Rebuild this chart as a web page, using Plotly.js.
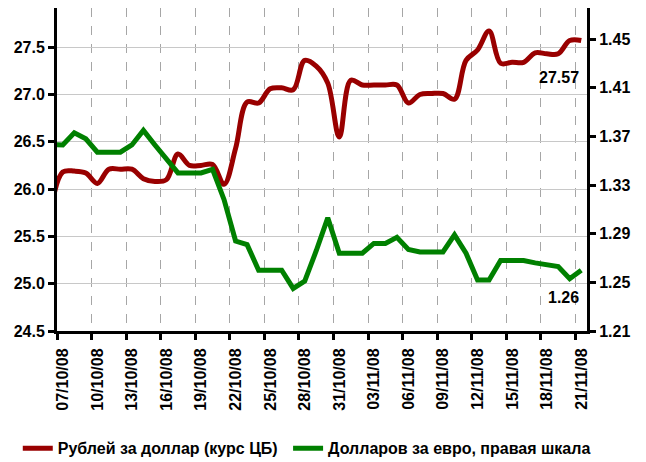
<!DOCTYPE html>
<html>
<head>
<meta charset="utf-8">
<script src="https://cdn.plot.ly/plotly-3.0.1.min.js"></script>
<style>
  html, body { margin: 0; padding: 0; background: #fff; }
  #chart { width: 646px; height: 462px; }
</style>
</head>
<body>
<div id="chart"></div>
<script>
// daily points (weekends included), plotted at midday like the original
var dates = [
  '2008-10-06 12:00', '2008-10-07 12:00', '2008-10-08 12:00', '2008-10-09 12:00', '2008-10-10 12:00',
  '2008-10-11 12:00', '2008-10-12 12:00', '2008-10-13 12:00', '2008-10-14 12:00', '2008-10-15 12:00',
  '2008-10-16 12:00', '2008-10-17 12:00', '2008-10-18 12:00', '2008-10-19 12:00', '2008-10-20 12:00',
  '2008-10-21 12:00', '2008-10-22 12:00', '2008-10-23 12:00', '2008-10-24 12:00', '2008-10-25 12:00',
  '2008-10-26 12:00', '2008-10-27 12:00', '2008-10-28 12:00', '2008-10-29 12:00', '2008-10-30 12:00',
  '2008-10-31 12:00', '2008-11-01 12:00', '2008-11-02 12:00', '2008-11-03 12:00', '2008-11-04 12:00',
  '2008-11-05 12:00', '2008-11-06 12:00', '2008-11-07 12:00', '2008-11-08 12:00', '2008-11-09 12:00',
  '2008-11-10 12:00', '2008-11-11 12:00', '2008-11-12 12:00', '2008-11-13 12:00', '2008-11-14 12:00',
  '2008-11-15 12:00', '2008-11-16 12:00', '2008-11-17 12:00', '2008-11-18 12:00', '2008-11-19 12:00',
  '2008-11-20 12:00', '2008-11-21 12:00'
];

// Рублей за доллар (курс ЦБ)
var rubUsd = [
  25.80, 26.18, 26.19, 26.17, 26.06, 26.21, 26.21, 26.21, 26.11, 26.08,
  26.10, 26.37, 26.25, 26.25, 26.26, 26.05, 26.43, 26.92, 26.91, 27.06,
  27.07, 27.05, 27.36, 27.30, 27.12, 26.55, 27.15, 27.10, 27.10, 27.10,
  27.10, 26.91, 27.00, 27.01, 27.01, 26.95, 27.36, 27.47, 27.67, 27.33,
  27.34, 27.34, 27.44, 27.43, 27.43, 27.57, 27.57
];

// Долларов за евро, правая шкала
var usdEur = [
  1.3635, 1.363, 1.373, 1.368, 1.357, 1.357, 1.357, 1.363, 1.375, 1.363,
  1.351, 1.340, 1.340, 1.340, 1.343, 1.318, 1.284, 1.281, 1.260, 1.260,
  1.260, 1.245, 1.251, 1.276, 1.303, 1.274, 1.274, 1.274, 1.282, 1.282,
  1.287, 1.277, 1.275, 1.275, 1.275, 1.289, 1.274, 1.252, 1.252, 1.268,
  1.268, 1.268, 1.266, 1.265, 1.263, 1.253, 1.260
];

var lastRub = '27.57';
var lastEur = '1.26';

var tickFont = { family: 'Liberation Sans, Arial, sans-serif', size: 16, color: '#000', weight: 'bold' };
var legendFont = { family: 'Liberation Sans, Arial, sans-serif', size: 16, color: '#000', weight: 'bold' };

var traces = [
  {
    x: dates, y: rubUsd, type: 'scatter', mode: 'lines',
    name: 'Рублей за доллар (курс ЦБ)',
    line: { color: '#990000', width: 5, shape: 'spline', smoothing: 1 },
    yaxis: 'y', legend: 'legend'
  },
  {
    x: dates, y: usdEur, type: 'scatter', mode: 'lines',
    name: 'Долларов за евро, правая шкала',
    line: { color: '#008000', width: 5 },
    yaxis: 'y2', legend: 'legend2'
  }
];

var layout = {
  width: 646, height: 462,
  margin: { l: 57, r: 59, t: 8, b: 131, autoexpand: false },
  paper_bgcolor: '#fff', plot_bgcolor: '#fff',
  showlegend: true,
  // two separate legends so each item sits where the original has it
  legend: {
    orientation: 'h', x: -0.074, xanchor: 'left', y: -0.363, yanchor: 'middle',
    font: legendFont, bgcolor: 'rgba(0,0,0,0)'
  },
  legend2: {
    orientation: 'h', x: 0.436, xanchor: 'left', y: -0.363, yanchor: 'middle',
    font: legendFont, bgcolor: 'rgba(0,0,0,0)'
  },
  xaxis: {
    type: 'date', automargin: false,
    range: ['2008-10-07', '2008-11-22'],
    tick0: '2008-10-07', dtick: 3 * 86400000,
    tickformat: '%d/%m/%y', tickangle: -90,
    tickfont: tickFont,
    ticks: 'outside', ticklen: 6, tickwidth: 3, tickcolor: '#000',
    ticklabelshift: 6, ticklabelstandoff: 2,
    showline: true, linewidth: 3, linecolor: '#000',
    showgrid: true, gridcolor: '#a6a6a6', gridwidth: 1, griddash: 'dash',
    zeroline: false, fixedrange: true
  },
  yaxis: {
    automargin: false,
    range: [24.5, 27.914],
    tick0: 24.5, dtick: 0.5, tickformat: '.1f',
    tickfont: tickFont,
    ticks: 'outside', ticklen: 6, tickwidth: 3, tickcolor: '#000',
    showline: true, linewidth: 3, linecolor: '#000',
    showgrid: true, gridcolor: '#c8c8c8', gridwidth: 1,
    zeroline: false
  },
  yaxis2: {
    overlaying: 'y', side: 'right', automargin: false,
    range: [1.21, 1.4756],
    tick0: 1.21, dtick: 0.04, tickformat: '.2f',
    tickfont: tickFont,
    ticks: 'outside', ticklen: 6, tickwidth: 3, tickcolor: '#000',
    showline: true, linewidth: 3, linecolor: '#000',
    showgrid: false, zeroline: false
  },
  annotations: [
    {
      x: dates[dates.length - 1], y: 27.18, xref: 'x', yref: 'y',
      text: lastRub, showarrow: false, xanchor: 'right', yanchor: 'middle',
      font: { family: 'Liberation Sans, Arial, sans-serif', size: 16, color: '#000', weight: 'bold' }
    },
    {
      x: dates[dates.length - 1], y: 1.2373, xref: 'x', yref: 'y2',
      text: lastEur, showarrow: false, xanchor: 'right', yanchor: 'middle',
      font: { family: 'Liberation Sans, Arial, sans-serif', size: 16, color: '#000', weight: 'bold' }
    }
  ]
};

Plotly.newPlot('chart', traces, layout, { displayModeBar: false, staticPlot: true });
</script>
</body>
</html>
